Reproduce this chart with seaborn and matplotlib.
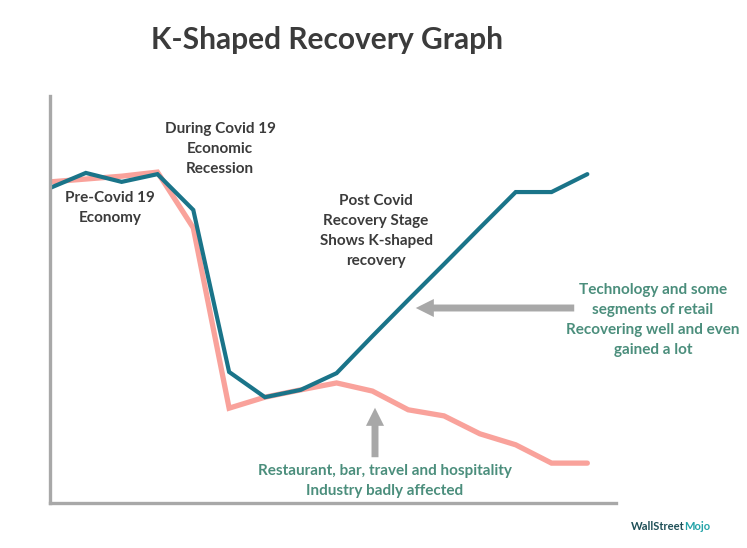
import matplotlib
matplotlib.use("Agg")
import matplotlib.pyplot as plt
import seaborn as sns
import pandas as pd

# ---- data (index scale 0-100) ----
periods = list(range(16))
tech_values = [77.4, 81.1, 78.9, 80.8, 72.0, 32.2, 26.0, 27.8, 31.9,
               41.0, 49.9, 58.7, 67.6, 76.4, 76.4, 80.8]
hospitality_values = [78.9, 79.6, 80.3, 81.3, 67.6, 23.3, 26.0, 27.8, 29.5,
                      27.5, 22.9, 21.4, 17.0, 14.3, 9.8, 9.8]

title = "K-Shaped Recovery Graph"
label_pre = "Pre-Covid 19\nEconomy"
label_during = "During Covid 19\nEconomic\nRecession"
label_post = "Post Covid\nRecovery Stage\nShows K-shaped\nrecovery"
label_tech = "Technology and some\nsegments of retail\nRecovering well and even\ngained a lot"
label_hosp = "Restaurant, bar, travel and hospitality\nIndustry badly affected"

df_tech = pd.DataFrame({"period": periods, "value": tech_values})
df_hosp = pd.DataFrame({"period": periods, "value": hospitality_values})

sns.set_theme(style="white")
plt.rcParams["font.family"] = ["Lato", "DejaVu Sans"]

W, H = 747, 548
fig = plt.figure(figsize=(W / 100, H / 100), dpi=100)
ax = fig.add_axes([50 / W, 1 - 503 / H, (616 - 50) / W, (503 - 96) / H])

BLUE = "#1a7489"
PINK = "#f9a29b"
GRAY = "#a8a8a8"
DARK = "#3b3b3b"
GREEN = "#4b8e7c"

sns.lineplot(data=df_hosp, x="period", y="value", ax=ax, color=PINK,
             linewidth=3.8, solid_joinstyle="miter")
sns.lineplot(data=df_tech, x="period", y="value", ax=ax, color=BLUE,
             linewidth=3.0, solid_joinstyle="miter")

ax.set_xlim(0, 15.8)
ax.set_ylim(0, 100)
ax.set_xticks([])
ax.set_yticks([])
ax.set_xlabel("")
ax.set_ylabel("")
for s in ["top", "right"]:
    ax.spines[s].set_visible(False)
for s in ["left", "bottom"]:
    ax.spines[s].set_color(GRAY)
    ax.spines[s].set_linewidth(2.4)

def ftext(x, y, s, color, size, ls=1.55):
    fig.text(x / W, 1 - y / H, s, color=color, fontsize=size, fontweight="bold",
             ha="center", va="center", linespacing=ls)

ftext(327, 40, title, DARK, 21.5)
ftext(220, 149, label_during, DARK, 11)
ftext(110, 208, label_pre, DARK, 11)
ftext(376, 231, label_post, DARK, 11)
ftext(653, 320, label_tech, GREEN, 11)
ftext(385, 481, label_hosp, GREEN, 11)

arrow_style = "simple,head_length=1.3,head_width=1.3,tail_width=0.5"
ax.annotate("", xy=(413, H - 308), xytext=(577, H - 308), xycoords="figure pixels",
            textcoords="figure pixels",
            arrowprops=dict(arrowstyle=arrow_style, color=GRAY, mutation_scale=10, lw=0))
ax.annotate("", xy=(375, H - 405), xytext=(375, H - 460), xycoords="figure pixels",
            textcoords="figure pixels",
            arrowprops=dict(arrowstyle=arrow_style, color=GRAY, mutation_scale=10, lw=0))

# watermark
fig.text(631 / W, 1 - 527 / H, "WallStreet", color="#1d4f57", fontsize=8,
         fontweight="bold", ha="left", va="center")
fig.text(684 / W, 1 - 527 / H, "Mojo", color="#22a3a8", fontsize=8,
         fontweight="bold", ha="left", va="center")

fig.savefig("out.png", dpi=100)
